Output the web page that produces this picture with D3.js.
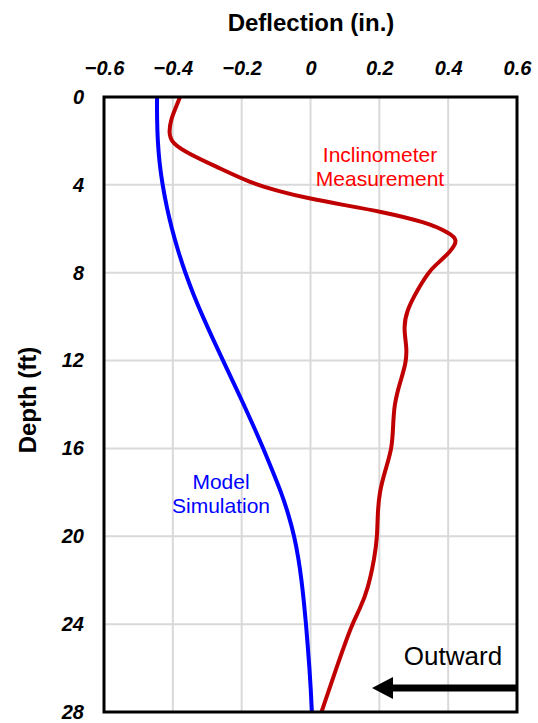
<!DOCTYPE html>
<html>
<head>
<meta charset="utf-8">
<script src="https://cdn.jsdelivr.net/npm/d3@7"></script>
<style>
  body { margin: 0; background: #fff; }
  text { font-family: "Liberation Sans", Arial, sans-serif; }
</style>
</head>
<body>
<svg id="chart" width="538" height="723"></svg>
<script>
// ---- data ----
const xTicks = [-0.6, -0.4, -0.2, 0, 0.2, 0.4, 0.6];
const yTicks = [0, 4, 8, 12, 16, 20, 24, 28];

const modelDepth = [0, 1, 2, 3, 4, 5, 6, 7, 8, 9, 10, 11, 12, 13, 14, 15, 16, 17, 18, 19, 20, 21, 22, 23, 24, 25, 26, 27, 28];
const modelDefl  = [-0.446, -0.446, -0.444, -0.439, -0.430, -0.418, -0.403, -0.385, -0.364, -0.340, -0.313, -0.284, -0.254, -0.224, -0.194, -0.165, -0.137, -0.111, -0.085, -0.064, -0.047, -0.035, -0.026, -0.019, -0.013, -0.008, -0.003, 0.001, 0.004];

const measDepth = [0, 0.5, 1.0, 1.6, 2.1, 2.6, 3.2, 3.9, 4.3, 4.6, 4.9, 5.2, 5.7, 6.2, 6.5, 7.0, 7.7, 8.0, 8.8, 9.7, 10.5, 11.4, 12.1, 13, 14, 15, 16, 17, 18, 19, 20, 21, 22.4, 23.3, 24, 26, 28];
const measDefl  = [-0.379, -0.392, -0.405, -0.412, -0.404, -0.352, -0.27, -0.176, -0.09, -0.01, 0.09, 0.20, 0.337, 0.405, 0.428, 0.41, 0.36, 0.342, 0.31, 0.28, 0.27, 0.28, 0.278, 0.26, 0.243, 0.24, 0.237, 0.217, 0.20, 0.195, 0.194, 0.186, 0.167, 0.144, 0.12, 0.075, 0.032];

// ---- layout ----
const svg = d3.select("#chart");
const L = 104, T = 97, W = 413, H = 615;
const x = d3.scaleLinear().domain([-0.6, 0.6]).range([L, L + W]);
const y = d3.scaleLinear().domain([0, 28]).range([T, T + H]);

// grid
const g = svg.append("g");
g.selectAll(".vg").data(xTicks.slice(1, -1)).enter().append("line")
  .attr("x1", d => x(d)).attr("x2", d => x(d)).attr("y1", T).attr("y2", T + H)
  .attr("stroke", "#d9d9d9").attr("stroke-width", 2);
g.selectAll(".hg").data(yTicks.slice(1, -1)).enter().append("line")
  .attr("y1", d => y(d)).attr("y2", d => y(d)).attr("x1", L).attr("x2", L + W)
  .attr("stroke", "#d9d9d9").attr("stroke-width", 2);

// axes (tick labels)
const xAxis = svg.append("g").attr("transform", `translate(0,${T})`)
  .call(d3.axisTop(x).tickValues(xTicks).tickSize(0).tickPadding(22).tickFormat(d => d === 0 ? "0" : d3.format(".1f")(d)));
xAxis.select(".domain").remove();
xAxis.selectAll("text").attr("font-size", 20).attr("font-weight", "bold").attr("font-style", "italic")
  .attr("fill", "#000").style("font-family", "'Liberation Sans', Arial, sans-serif");

const yAxis = svg.append("g").attr("transform", `translate(${L},0)`)
  .call(d3.axisLeft(y).tickValues(yTicks).tickSize(0).tickPadding(20).tickFormat(d3.format("d")));
yAxis.select(".domain").remove();
yAxis.selectAll("text").attr("font-size", 20).attr("font-weight", "bold").attr("font-style", "italic")
  .attr("fill", "#000").style("font-family", "'Liberation Sans', Arial, sans-serif");

// curves
svg.append("clipPath").attr("id", "clip").append("rect")
  .attr("x", L).attr("y", T - 2).attr("width", W).attr("height", H + 4);

const line = d3.line().x(d => x(d[1])).y(d => y(d[0])).curve(d3.curveBasis);

svg.append("path").datum(modelDepth.map((d, i) => [d, modelDefl[i]]))
  .attr("d", line).attr("fill", "none").attr("stroke", "#0000ff").attr("stroke-width", 4)
  .attr("clip-path", "url(#clip)");
svg.append("path").datum(measDepth.map((d, i) => [d, measDefl[i]]))
  .attr("d", line).attr("fill", "none").attr("stroke", "#c00000").attr("stroke-width", 4)
  .attr("clip-path", "url(#clip)");

// frame
svg.append("rect").attr("x", L).attr("y", T).attr("width", W).attr("height", H)
  .attr("fill", "none").attr("stroke", "#000").attr("stroke-width", 3);

// titles
svg.append("text").attr("x", 311).attr("y", 31).attr("text-anchor", "middle")
  .attr("font-size", 24).attr("font-weight", "bold").text("Deflection (in.)");
svg.append("text").attr("transform", "translate(36,400) rotate(-90)").attr("text-anchor", "middle")
  .attr("font-size", 24).attr("font-weight", "bold").text("Depth (ft)");

// annotations
const red = svg.append("text").attr("text-anchor", "middle").attr("fill", "#ff0000").attr("font-size", 21);
red.append("tspan").attr("x", 380).attr("y", 162).text("Inclinometer");
red.append("tspan").attr("x", 380).attr("y", 186).text("Measurement");

const blue = svg.append("text").attr("text-anchor", "middle").attr("fill", "#0000ff").attr("font-size", 21);
blue.append("tspan").attr("x", 221).attr("y", 489).text("Model");
blue.append("tspan").attr("x", 221).attr("y", 513).text("Simulation");

svg.append("text").attr("x", 453).attr("y", 665).attr("text-anchor", "middle")
  .attr("font-size", 26).attr("fill", "#000").text("Outward");

// arrow
svg.append("line").attr("x1", L + W).attr("x2", 388).attr("y1", 688).attr("y2", 688)
  .attr("stroke", "#000").attr("stroke-width", 7);
svg.append("path").attr("d", `M372,688 L393,677 L393,699 Z`).attr("fill", "#000");
</script>
</body>
</html>
